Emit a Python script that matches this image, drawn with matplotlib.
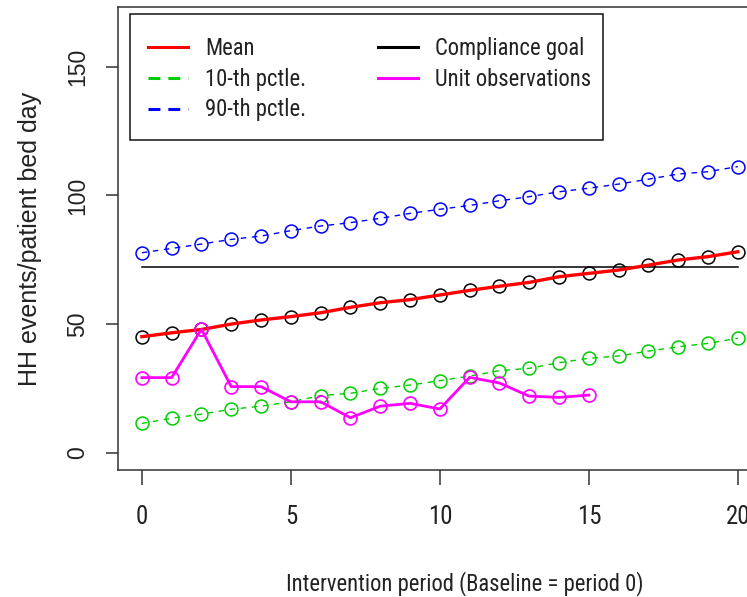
import matplotlib
matplotlib.use('Agg')
import matplotlib.pyplot as plt
from matplotlib.lines import Line2D
from matplotlib.patches import Rectangle
from matplotlib import font_manager as fm

# ---------------- data ----------------
periods = list(range(21))
mean_vals = [45.1, 46.6, 47.9, 50.0, 51.6, 52.9, 54.4, 56.5, 58.3, 59.5, 61.3,
             63.1, 64.7, 66.2, 68.4, 69.7, 71.0, 72.9, 74.9, 76.2, 78.1]
p10_vals = [11.4, 13.4, 15.0, 16.9, 18.1, 19.8, 22.2, 23.1, 25.0, 26.3, 28.0,
            29.8, 31.9, 32.8, 35.0, 36.7, 37.6, 39.5, 41.2, 42.5, 44.5]
p90_vals = [77.7, 79.4, 81.1, 82.9, 84.2, 86.3, 88.1, 89.4, 91.1, 93.0, 94.6,
            96.1, 97.9, 99.5, 101.4, 102.8, 104.4, 106.3, 108.3, 109.2, 111.2]
obs_periods = list(range(16))
obs_vals = [29.2, 29.2, 48.0, 25.7, 25.7, 19.8, 19.8, 13.6, 18.1, 19.2, 17.0,
            29.3, 27.1, 22.0, 21.5, 22.4]
goal_x = [0, 20]
goal_y = [72.3, 72.3]
x_ticks = [0, 5, 10, 15, 20]
y_ticks = [0, 50, 100, 150]
legend_labels = ["Mean", "10-th pctle.", "90-th pctle.", "Compliance goal", "Unit observations"]
x_label = "Intervention period (Baseline = period 0)"
y_label = "HH events/patient bed day"

# ---------------- fonts ----------------
avail = {f.name for f in fm.fontManager.ttflist}
cands = ['Liberation Sans Narrow', 'Arial Narrow', 'Nimbus Sans Narrow', 'Arimo Narrow',
         'Roboto Condensed', 'Archivo Narrow', 'PT Sans Narrow', 'Fira Sans Condensed',
         'IBM Plex Sans Condensed', 'Open Sans Condensed', 'Liberation Sans']
NARROW_NAME = next((c for c in cands if c in avail), 'DejaVu Sans')
NARROW = [NARROW_NAME, 'Liberation Sans', 'DejaVu Sans']
REG = ['Liberation Sans', 'DejaVu Sans']

RED, GREEN, BLUE, MAG, BLK = '#FF0000', '#00CD00', '#0000FF', '#FF00FF', '#000000'
TXT = '#222222'
SP = '#333333'

W, H = 747, 597
fig = plt.figure(figsize=(W / 100, H / 100), dpi=100)

# size the narrow font so the x label spans the same width as in the reference
renderer = fig.canvas.get_renderer()
probe = fig.text(0, 0, x_label, family=NARROW, fontsize=20)
wpx = probe.get_window_extent(renderer).width
probe.remove()
FS = max(13.0, min(22.0, 20 * 356 / wpx))

left_px, right_px, top_px, bot_px = 118, 811, 7, 470
ax = fig.add_axes([left_px / W, 1 - bot_px / H, (right_px - left_px) / W, (bot_px - top_px) / H])

ms = 9.3
ax.plot(periods, p90_vals, color=BLUE, lw=1.0, dashes=(4, 4), marker='o',
        mfc='none', mec=BLUE, ms=ms, mew=1.1)
ax.plot(periods, p10_vals, color=GREEN, lw=1.0, dashes=(4, 4), marker='o',
        mfc='none', mec=GREEN, ms=ms, mew=1.1)
ax.plot(goal_x, goal_y, color=BLK, lw=1.1)
ax.plot(periods, mean_vals, linestyle='none', marker='o', mfc='none', mec=BLK, ms=ms, mew=1.1)
ax.plot(periods, mean_vals, color=RED, lw=2.4)
ax.plot(obs_periods, obs_vals, color=MAG, lw=2.0, marker='o', mfc='none', mec=MAG, ms=ms, mew=1.2)

ax.set_xlim(-0.8, -0.8 + (right_px - left_px) / 29.8)
ax.set_ylim(-6.7, 173.2)
ax.set_xticks(x_ticks)
ax.set_yticks(y_ticks)
ax.set_xticklabels([str(v) for v in x_ticks], family=NARROW, fontsize=FS * 1.1, color=TXT)
ax.set_yticklabels([str(v) for v in y_ticks], family=REG, fontsize=16.5, color=TXT,
                   rotation=90, va='center')

for s in ['left', 'bottom', 'top', 'right']:
    ax.spines[s].set_color(SP)
    ax.spines[s].set_linewidth(1.1)
ax.tick_params(axis='x', length=11, width=1.1, color=SP, pad=14)
ax.tick_params(axis='y', length=8.6, width=1.1, color=SP, pad=12)

ax.set_xlabel(x_label, family=NARROW, fontsize=FS, color=TXT)
ax.xaxis.label.set_va('center')
ax.xaxis.set_label_coords(0.5, (bot_px - 584) / (bot_px - top_px))
ax.set_ylabel(y_label, family=REG, fontsize=18, color=TXT)
ax.yaxis.label.set_va('center')
ax.yaxis.set_label_coords((30 - left_px) / (right_px - left_px), 0.5)

fs_px = FS * 100 / 72
handles = [
    Line2D([], [], color=RED, lw=2.2),
    Line2D([], [], color=GREEN, lw=2.2, dashes=(3.9, 2.6)),
    Line2D([], [], color=BLUE, lw=2.2, dashes=(3.9, 2.6)),
    Line2D([], [], color=BLK, lw=2.2),
    Line2D([], [], color=MAG, lw=2.2),
]
leg = ax.legend(handles, legend_labels, ncol=2, loc='upper left',
                bbox_to_anchor=(130 / W, 1 - 18.7 / H), bbox_transform=fig.transFigure,
                borderaxespad=0, frameon=False,
                prop={'family': NARROW, 'size': FS},
                handlelength=40 / fs_px, handletextpad=17 / fs_px, columnspacing=72 / fs_px,
                labelspacing=0.15 + 4.5 / fs_px, borderpad=18 / fs_px)
for t in leg.get_texts():
    t.set_color(TXT)
# legend frame box, as in the reference
ax.add_patch(Rectangle((130 / W, 1 - 140 / H), (603 - 130) / W, (140 - 14) / H,
                       transform=fig.transFigure, fill=True, facecolor='white',
                       edgecolor='#111111', lw=1.1, zorder=4.9, clip_on=False))
leg.set_zorder(5)

fig.savefig('out.png', dpi=100)
